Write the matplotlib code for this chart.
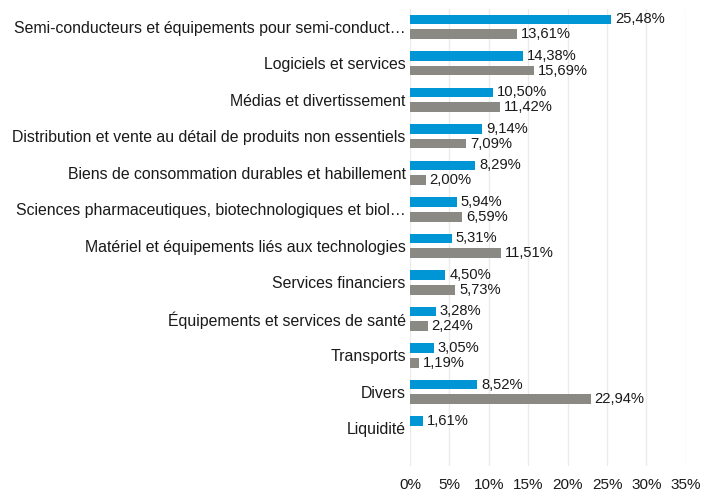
import matplotlib
matplotlib.use("Agg")
import matplotlib.pyplot as plt
import numpy as np

plt.rcParams['font.family'] = ['Liberation Sans', 'DejaVu Sans']

# sectors, top to bottom
categories = ["Semi-conducteurs et équipements pour semi-conduct…",
              "Logiciels et services",
              "Médias et divertissement",
              "Distribution et vente au détail de produits non essentiels",
              "Biens de consommation durables et habillement",
              "Sciences pharmaceutiques, biotechnologiques et biol…",
              "Matériel et équipements liés aux technologies",
              "Services financiers",
              "Équipements et services de santé",
              "Transports",
              "Divers",
              "Liquidité"]
fund = [25.48, 14.38, 10.50, 9.14, 8.29, 5.94, 5.31, 4.50, 3.28, 3.05, 8.52, 1.61]
index = [13.61, 15.69, 11.42, 7.09, 2.00, 6.59, 11.51, 5.73, 2.24, 1.19, 22.94, None]
xticks = [0, 5, 10, 15, 20, 25, 30, 35]

blue = "#0096D6"
grey = "#8A8984"

fig = plt.figure(figsize=(7.02, 4.92), dpi=100)
ax = fig.add_axes([0.584, 0.053, 0.393, 0.929])

y = np.arange(len(categories))
h = 0.27
off = 0.2

ax.barh(y - off, fund, height=h, color=blue, zorder=2)
for yi, v in zip(y, fund):
    ax.text(v + 0.5, yi - off, f"{v:.2f}%".replace(".", ","), va="center",
            ha="left", fontsize=10.6, color="#1a1a1a")

idx_y = [yi for yi, v in zip(y, index) if v is not None]
idx_v = [v for v in index if v is not None]
ax.barh(np.array(idx_y) + off, idx_v, height=h, color=grey, zorder=2)
for yi, v in zip(idx_y, idx_v):
    ax.text(v + 0.5, yi + off, f"{v:.2f}%".replace(".", ","), va="center",
            ha="left", fontsize=10.6, color="#1a1a1a")

ax.set_xlim(0, 35)
ax.set_ylim(12.03, -0.49)
ax.set_xticks(xticks)
ax.set_xticklabels([f"{t}%" for t in xticks], fontsize=11, color="#1a1a1a")
ax.set_yticks(y)
ax.set_yticklabels(categories, fontsize=11.4, color="#1a1a1a")
ax.tick_params(length=0)
ax.tick_params(axis="x", pad=9)
ax.tick_params(axis="y", pad=3)
ax.grid(axis="x", color="#EBEBEB", linewidth=1, zorder=0)
for s in ax.spines.values():
    s.set_visible(False)

fig.savefig("out.png", dpi=100)
